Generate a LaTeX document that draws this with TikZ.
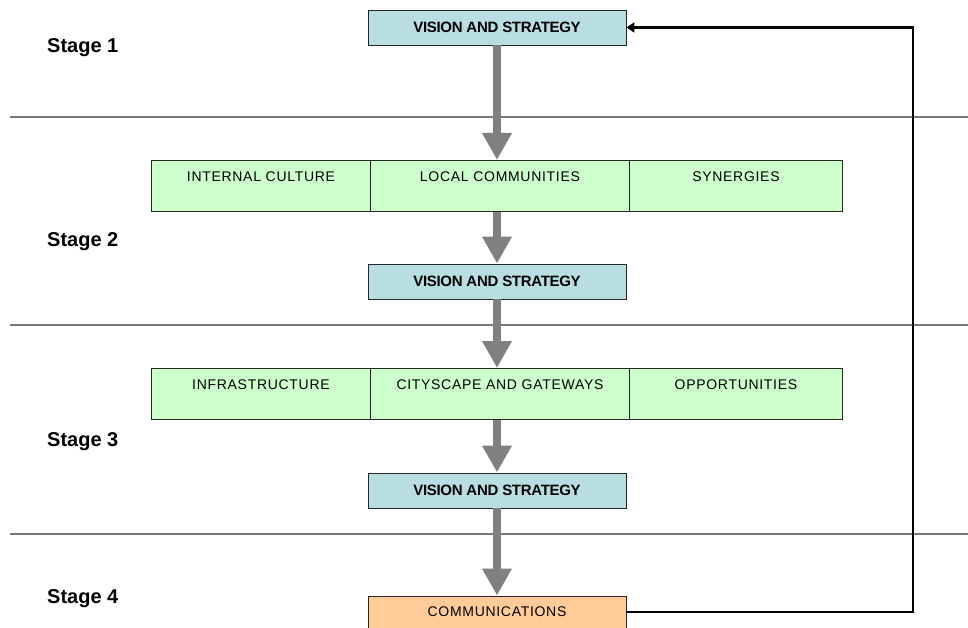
\documentclass[tikz,border=0pt]{standalone}
\usepackage{fontspec}
\setmainfont{Liberation Sans}
\usetikzlibrary{arrows.meta}

\definecolor{visionblue}{RGB}{185,222,226}
\definecolor{factorgreen}{RGB}{204,255,204}
\definecolor{commorange}{RGB}{255,204,153}
\definecolor{flowgrey}{RGB}{128,128,128}
\definecolor{rulegrey}{RGB}{120,120,120}

\tikzset{
  vision/.style={draw=black!85, line width=0.9pt, fill=visionblue, inner sep=0pt,
    minimum width=258pt, minimum height=35pt,
    font=\fontsize{15}{16}\selectfont\bfseries\addfontfeatures{LetterSpace=-2}},
  factor/.style={draw=black!85, line width=0.9pt, fill=factorgreen, inner xsep=0pt, inner ysep=0pt,
    anchor=north west, text height=21pt, text depth=30pt, align=center,
    font=\fontsize{14}{15}\selectfont\addfontfeatures{LetterSpace=5}},
  comms/.style={draw=black!85, line width=0.9pt, fill=commorange, inner sep=0pt,
    minimum width=258pt, minimum height=32pt,
    font=\fontsize{14}{15}\selectfont\addfontfeatures{LetterSpace=5}},
  stagelabel/.style={anchor=west, inner sep=0pt, font=\fontsize{20}{22}\selectfont\bfseries},
  flow/.style={draw=flowgrey, line width=8pt,
    -{Triangle[width=28pt,length=27pt,fill=flowgrey]}},
  feedback/.style={draw=black, line width=2.8pt,
    -{Triangle[width=10pt,length=8pt]}},
  stagerule/.style={draw=rulegrey, line width=1.3pt}
}

\begin{document}
\begin{tikzpicture}[x=1pt,y=-1pt]
  \useasboundingbox (0,0) rectangle (968,628);

  % stage separators
  \draw[stagerule] (10,117) -- (968,117);
  \draw[stagerule] (10,325) -- (968,325);
  \draw[stagerule] (10,534) -- (968,534);

  % stage labels
  \node[stagelabel] (s1) at (47,48) {Stage 1};
  \node[stagelabel] (s2) at (47,242) {Stage 2};
  \node[stagelabel] (s3) at (47,442) {Stage 3};
  \node[stagelabel] (s4) at (47,599) {Stage 4};

  % stage 1
  \node[vision] (v1) at (497,27.5) {VISION AND STRATEGY};

  % stage 2
  \node[factor, text width=219pt] (ic) at (151,160) {INTERNAL CULTURE};
  \node[factor, text width=259pt] (lc) at (370,160) {LOCAL COMMUNITIES};
  \node[factor, text width=213pt] (sy) at (629,160) {SYNERGIES};
  \node[vision] (v2) at (497,281.5) {VISION AND STRATEGY};

  % stage 3
  \node[factor, text width=219pt] (inf) at (151,368) {INFRASTRUCTURE};
  \node[factor, text width=259pt] (cg) at (370,368) {CITYSCAPE AND GATEWAYS};
  \node[factor, text width=213pt] (op) at (629,368) {OPPORTUNITIES};
  \node[vision] (v3) at (497,490.5) {VISION AND STRATEGY};

  % stage 4
  \node[comms] (cm) at (497,612) {COMMUNICATIONS};

  % main flow
  \draw[flow] (v1.south) -- (v1.south |- lc.north);
  \draw[flow] (v1.south |- lc.south) -- (v2.north);
  \draw[flow] (v2.south) -- (v2.south |- cg.north);
  \draw[flow] (v2.south |- cg.south) -- (v3.north);
  \draw[flow] (v3.south) -- (cm.north);

  % feedback loop
  \coordinate (fb) at (913,0);
  \draw[feedback] (cm.east) -- (cm.east -| fb) -- (v1.east -| fb) -- (v1.east);
\end{tikzpicture}
\end{document}
